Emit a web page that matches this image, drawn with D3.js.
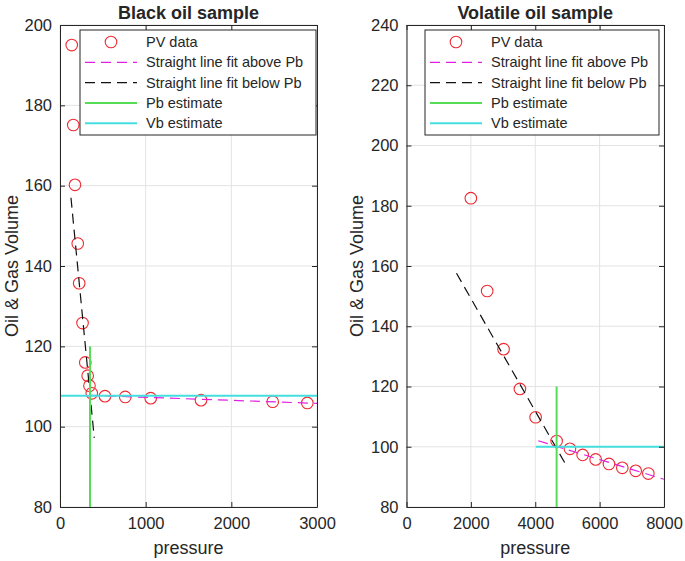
<!DOCTYPE html>
<html>
<head>
<meta charset="utf-8">
<script src="https://cdn.jsdelivr.net/npm/d3@7"></script>
<style>
  body { margin: 0; background: #fff; }
  svg text { font-family: "Liberation Sans", Arial, sans-serif; fill: #262626; }
</style>
</head>
<body>
<svg width="685" height="561"></svg>
<script>
// black oil sample
const blackP = [137, 155, 175, 207, 224, 263, 295, 323, 344, 371, 525, 762, 1059, 1646, 2483, 2887];
const blackV = [195.0, 175.1, 160.2, 145.6, 135.7, 125.8, 116.0, 112.7, 110.2, 108.3, 107.6, 107.4, 107.1, 106.6, 106.2, 105.9];
const blackAbove = [[350, 107.8], [3000, 105.8]];
const blackBelow = [[128, 157], [400, 97.2]];
const blackPb = 350, blackVb = 107.7;

// volatile oil sample
const volP = [1999, 2506, 3016, 3523, 4011, 4664, 5078, 5473, 5877, 6290, 6704, 7121, 7513];
const volV = [182.5, 151.7, 132.4, 119.2, 109.8, 101.9, 99.3, 97.3, 95.8, 94.3, 93.0, 92.0, 91.1];
const volAbove = [[4092, 102.0], [8000, 89.2]];
const volBelow = [[1553, 157.6], [4975, 93.6]];
const volPb = 4664, volVb = 100;

const blackXTicks = [0, 1000, 2000, 3000];
const blackYTicks = [80, 100, 120, 140, 160, 180, 200];
const volXTicks = [0, 2000, 4000, 6000, 8000];
const volYTicks = [80, 100, 120, 140, 160, 180, 200, 220, 240];

const legendLabels = ["PV data", "Straight line fit above Pb", "Straight line fit below Pb", "Pb estimate", "Vb estimate"];

const RED = "#ee2a33", MAG = "#e020e0", GRN = "#55dd55", CYN = "#44dede", AX = "#262626";

const svg = d3.select("svg");

function panel(o) {
  const x = d3.scaleLinear().domain(o.xdom).range([o.left, o.right]);
  const y = d3.scaleLinear().domain(o.ydom).range([o.bottom, o.top]);
  const g = svg.append("g");

  // grid
  g.selectAll(".gx").data(o.xt).enter().append("line")
    .attr("x1", d => x(d)).attr("x2", d => x(d)).attr("y1", o.top).attr("y2", o.bottom)
    .attr("stroke", "#e3e3e3").attr("stroke-width", 1);
  g.selectAll(".gy").data(o.yt).enter().append("line")
    .attr("x1", o.left).attr("x2", o.right).attr("y1", d => y(d)).attr("y2", d => y(d))
    .attr("stroke", "#e3e3e3").attr("stroke-width", 1);

  const clip = "clip" + o.id;
  svg.append("clipPath").attr("id", clip).append("rect")
    .attr("x", o.left).attr("y", o.top).attr("width", o.right - o.left).attr("height", o.bottom - o.top);
  const plot = g.append("g").attr("clip-path", "url(#" + clip + ")");

  const pts = o.p.map((p, i) => [p, o.v[i]]);
  plot.selectAll("circle").data(pts).enter().append("circle")
    .attr("cx", d => x(d[0])).attr("cy", d => y(d[1])).attr("r", 5.8)
    .attr("fill", "none").attr("stroke", RED).attr("stroke-width", 1.1);

  const line = d3.line().x(d => x(d[0])).y(d => y(d[1]));
  plot.append("path").attr("d", line(o.above)).attr("fill", "none")
    .attr("stroke", MAG).attr("stroke-width", 1.2).attr("stroke-dasharray", "10,6");
  plot.append("path").attr("d", line(o.below)).attr("fill", "none")
    .attr("stroke", "#111").attr("stroke-width", 1.2).attr("stroke-dasharray", "10,6");
  plot.append("path").attr("d", line([[o.pb, o.ydom[0]], [o.pb, 120]])).attr("fill", "none")
    .attr("stroke", GRN).attr("stroke-width", 2);
  plot.append("path").attr("d", line([[o.vbFrom, o.vb], [o.xdom[1], o.vb]])).attr("fill", "none")
    .attr("stroke", CYN).attr("stroke-width", 2);

  // axes box with inward ticks on all sides
  const fmt = d3.format("d");
  const ax = g.append("g");
  ax.append("g").attr("transform", `translate(0,${o.bottom})`)
    .call(d3.axisBottom(x).tickValues(o.xt).tickFormat(fmt).tickSizeInner(-5).tickSizeOuter(0).tickPadding(10));
  ax.append("g").attr("transform", `translate(${o.left},0)`)
    .call(d3.axisLeft(y).tickValues(o.yt).tickFormat(fmt).tickSizeInner(-5).tickSizeOuter(0).tickPadding(8));
  ax.append("g").attr("transform", `translate(0,${o.top})`)
    .call(d3.axisTop(x).tickValues(o.xt).tickSizeInner(-5).tickSizeOuter(0).tickFormat(""));
  ax.append("g").attr("transform", `translate(${o.right},0)`)
    .call(d3.axisRight(y).tickValues(o.yt).tickSizeInner(-5).tickSizeOuter(0).tickFormat(""));
  ax.selectAll(".domain").attr("stroke", AX);
  ax.selectAll(".tick line").attr("stroke", AX);
  ax.selectAll(".tick text").style("font-size", "16.5px").attr("fill", AX);

  // titles and labels
  g.append("text").attr("x", (o.left + o.right) / 2).attr("y", 19).attr("text-anchor", "middle")
    .style("font-size", "18px").style("font-weight", "bold").attr("fill", "#000").text(o.title);
  g.append("text").attr("x", (o.left + o.right) / 2).attr("y", 554).attr("text-anchor", "middle")
    .style("font-size", "18px").text("pressure");
  g.append("text").attr("transform", `translate(${o.ylabX},${(o.top + o.bottom) / 2}) rotate(-90)`)
    .attr("text-anchor", "middle").attr("dy", "0.35em").style("font-size", "18px").text("Oil & Gas Volume");

  // legend
  const lg = g.append("g");
  lg.append("rect").attr("x", o.lgX).attr("y", 30).attr("width", o.lgW).attr("height", 105)
    .attr("fill", "#fff").attr("stroke", AX).attr("stroke-width", 1);
  const rowY = i => 42 + i * 20.3;
  const sx0 = o.lgX + 5, sx1 = o.lgX + 57;
  lg.append("circle").attr("cx", (sx0 + sx1) / 2).attr("cy", rowY(0)).attr("r", 5.8)
    .attr("fill", "none").attr("stroke", RED).attr("stroke-width", 1.1);
  const sty = [null, [MAG, "10,6", 1.2], ["#111", "10,6", 1.2], [GRN, null, 2], [CYN, null, 2]];
  sty.forEach((s, i) => {
    if (!s) return;
    lg.append("line").attr("x1", sx0).attr("x2", sx1).attr("y1", rowY(i)).attr("y2", rowY(i))
      .attr("stroke", s[0]).attr("stroke-width", s[2]).attr("stroke-dasharray", s[1]);
  });
  lg.selectAll(".lt").data(legendLabels).enter().append("text")
    .attr("x", o.lgX + 66).attr("y", (d, i) => rowY(i)).attr("dy", "0.35em")
    .style("font-size", "14.5px").attr("fill", "#000").text(d => d);
}

panel({
  id: "a", title: "Black oil sample", left: 60, right: 317, top: 25, bottom: 507,
  xdom: [0, 3000], ydom: [80, 200], xt: blackXTicks, yt: blackYTicks,
  p: blackP, v: blackV, above: blackAbove, below: blackBelow,
  pb: blackPb, vb: blackVb, vbFrom: 0, ylabX: 12, lgX: 80, lgW: 236
});
panel({
  id: "b", title: "Volatile oil sample", left: 406.5, right: 664, top: 25, bottom: 507,
  xdom: [0, 8000], ydom: [80, 240], xt: volXTicks, yt: volYTicks,
  p: volP, v: volV, above: volAbove, below: volBelow,
  pb: volPb, vb: volVb, vbFrom: 4020, ylabX: 357, lgX: 425, lgW: 234
});
</script>
</body>
</html>
